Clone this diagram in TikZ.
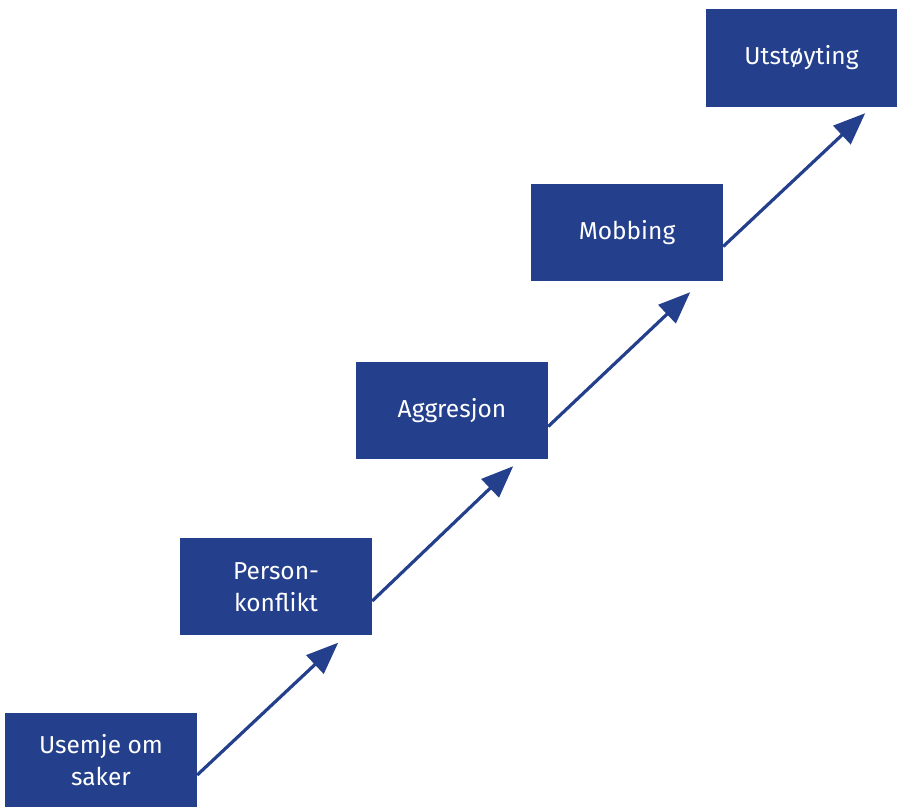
\documentclass[tikz,border=0pt]{standalone}
\usepackage{fontspec}
\setmainfont{Fira Sans}
\usepackage{tikz}
\usetikzlibrary{arrows.meta}
\usetikzlibrary{positioning}
\usetikzlibrary{calc}
\definecolor{stepblue}{rgb}{0.14,0.25,0.55}
\tikzset{stepbox/.style={fill=stepblue, text=white, minimum width=192bp, minimum height=97bp, align=center, inner sep=0pt, font=\fontsize{24.5bp}{32bp}\selectfont},
  steparrow/.style={draw=stepblue, line width=3.2bp, -{Triangle[length=32bp,width=25bp]}}}

\begin{document}
\begin{tikzpicture}[line join=bevel,]
%%
  \useasboundingbox (0bp,0bp) rectangle (897bp,807bp);
  \node (usemje) at (101.0bp,47.0bp) [stepbox,minimum height=94bp] {Usemje om\\saker};
  \node (person) at (276.0bp,220.0bp) [stepbox] {Person-\\konflikt};
  \node (aggresjon) at (452.0bp,396.5bp) [stepbox] {Aggresjon};
  \node (mobbing) at (627.0bp,574.5bp) [stepbox] {Mobbing};
  \node (utstoyting) at (801.5bp,749.0bp) [stepbox,minimum width=191bp,minimum height=98bp] {Utstøyting};
  \draw [steparrow] ([yshift=-15bp]usemje.east) -- ([xshift=-34bp,yshift=-7bp]person.south east);
  \draw [steparrow] ([yshift=-14bp]person.east) -- ([xshift=-35bp,yshift=-7bp]aggresjon.south east);
  \draw [steparrow] ([yshift=-16bp]aggresjon.east) -- ([xshift=-33bp,yshift=-11bp]mobbing.south east);
  \draw [steparrow] ([yshift=-14bp]mobbing.east) -- ([xshift=-32bp,yshift=-6bp]utstoyting.south east);
%
\end{tikzpicture}
\end{document}
